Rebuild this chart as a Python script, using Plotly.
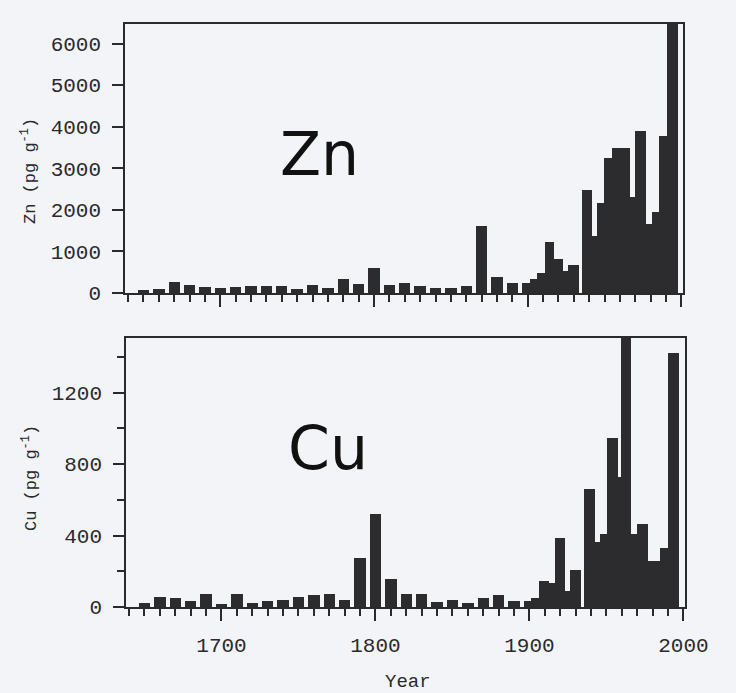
import plotly.graph_objects as go

# ---------------- data ----------------
decade_years = [1650, 1660, 1670, 1680, 1690, 1700, 1710, 1720, 1730, 1740,
                1750, 1760, 1770, 1780, 1790, 1800, 1810, 1820, 1830, 1840,
                1850, 1860, 1870, 1880, 1890]
zn_decade = [80, 105, 265, 200, 145, 120, 137, 160, 177, 170,
             105, 185, 130, 346, 217, 604, 200, 235, 180, 110,
             110, 160, 1620, 380, 245]
cu_decade = [22, 55, 50, 33, 74, 18, 74, 20, 31, 37,
             55, 67, 70, 39, 274, 518, 157, 72, 75, 28,
             40, 20, 50, 65, 35]

zn_bin_start = [1896.5, 1901.3, 1906.2, 1911.0, 1917.2, 1923.0, 1926.4, 1935.5, 1942.0,
                1945.0, 1949.8, 1954.7, 1966.5, 1969.8, 1977.2, 1980.8, 1985.2, 1990.5]
zn_bin_end = [1901.3, 1906.2, 1911.0, 1917.2, 1923.0, 1926.4, 1933.5, 1942.0, 1945.0,
              1949.8, 1954.7, 1966.5, 1969.8, 1977.2, 1980.8, 1985.2, 1990.5, 1998.0]
zn_late = [245, 336, 480, 1223, 810, 530, 670, 2480, 1365,
           2165, 3250, 3480, 2320, 3890, 1660, 1950, 3770, 7000]

cu_bin_start = [1896.5, 1901.3, 1906.5, 1912.4, 1916.3, 1923.0, 1926.4, 1935.6, 1942.8,
                1945.6, 1950.3, 1957.4, 1959.6, 1966.0, 1970.1, 1976.9, 1985.0, 1990.0]
cu_bin_end = [1901.3, 1906.5, 1912.4, 1916.3, 1923.0, 1926.4, 1933.5, 1942.8, 1945.6,
              1950.3, 1957.4, 1959.6, 1966.0, 1970.1, 1976.9, 1985.0, 1990.0, 1996.8]
cu_late = [35, 50, 148, 135, 385, 92, 207, 663, 362,
           409, 947, 725, 1600, 409, 465, 256, 330, 1420]

x_tick_labels = ["1700", "1800", "1900", "2000"]
x_tick_vals = [1700, 1800, 1900, 2000]

# ---------------- styling ----------------
BAR = "#2c2c2e"
INK = "#2a2a2d"
BG = "#f3f4f8"
MONO = "Liberation Mono, Courier New, monospace"
DECADE_W = 7.4


def build(decade_vals, starts, ends, late_vals):
    xs = list(decade_years) + [(a + b) / 2 for a, b in zip(starts, ends)]
    ws = [DECADE_W] * len(decade_years) + [b - a for a, b in zip(starts, ends)]
    ys = list(decade_vals) + list(late_vals)
    return xs, ws, ys


zx, zw, zy = build(zn_decade, zn_bin_start, zn_bin_end, zn_late)
cx, cw, cy = build(cu_decade, cu_bin_start, cu_bin_end, cu_late)

fig = go.Figure()
fig.add_trace(go.Bar(x=zx, y=zy, width=zw, marker=dict(color=BAR, line=dict(width=0)),
                     xaxis="x", yaxis="y", showlegend=False))
fig.add_trace(go.Bar(x=cx, y=cy, width=cw, marker=dict(color=BAR, line=dict(width=0)),
                     xaxis="x2", yaxis="y2", showlegend=False))

W, H = 736, 693

common_x = dict(range=[1638, 2001], showgrid=False, zeroline=False, automargin=False,
                showline=True, linecolor=INK, linewidth=1.5, mirror=True,
                ticks="outside", tickmode="array", tickvals=x_tick_vals,
                ticktext=x_tick_labels, ticklen=12, tickwidth=1.5, tickcolor=INK,
                minor=dict(ticks="outside", dtick=10, tick0=1700, ticklen=7,
                           tickwidth=1.5, tickcolor=INK),
                tickfont=dict(family=MONO, size=21, color=INK),
                ticklabelstandoff=6)
common_y = dict(showgrid=False, zeroline=False, showline=True, linecolor=INK,
                linewidth=1.5, mirror=True, ticks="outside", ticklen=11,
                tickwidth=1.5, tickcolor=INK, automargin=False,
                tickfont=dict(family=MONO, size=21, color=INK),
                ticklabelstandoff=7)

fig.update_layout(
    width=W, height=H, margin=dict(l=0, r=0, t=0, b=0, autoexpand=False),
    paper_bgcolor=BG, plot_bgcolor=BG, bargap=0,
    xaxis=dict(domain=[125 / W, 683 / W], anchor="y", showticklabels=False, **common_x),
    yaxis=dict(domain=[1 - 293 / H, 1 - 24 / H], anchor="x", range=[0, 6470],
               tickmode="linear", tick0=0, dtick=1000, **common_y),
    xaxis2=dict(domain=[126 / W, 685 / W], anchor="y2", showticklabels=True, **common_x),
    yaxis2=dict(domain=[1 - 607 / H, 1 - 338 / H], anchor="x2", range=[0, 1505],
                tickmode="linear", tick0=0, dtick=400,
                minor=dict(ticks="outside", dtick=200, tick0=0, ticklen=7,
                           tickwidth=1.5, tickcolor=INK),
                **common_y),
    annotations=[
        dict(text="Zn (pg g<sup>-1</sup>)", x=29 / W, y=1 - 171 / H, xref="paper", yref="paper",
             xanchor="center", yanchor="middle",
             textangle=-90, showarrow=False, font=dict(family=MONO, size=17, color=INK)),
        dict(text="Cu (pg g<sup>-1</sup>)", x=30 / W, y=1 - 478 / H, xref="paper", yref="paper",
             xanchor="center", yanchor="middle",
             textangle=-90, showarrow=False, font=dict(family=MONO, size=17, color=INK)),
        dict(text="Zn", x=319 / W, y=1 - 154 / H, xref="paper", yref="paper",
             xanchor="center", yanchor="middle",
             showarrow=False, font=dict(family="DejaVu Sans", size=60, color="#111")),
        dict(text="Cu", x=328 / W, y=1 - 448 / H, xref="paper", yref="paper",
             xanchor="center", yanchor="middle",
             showarrow=False, font=dict(family="DejaVu Sans", size=60, color="#111")),
        dict(text="Year", x=408 / W, y=1 - 682 / H, xref="paper", yref="paper",
             xanchor="center", yanchor="middle",
             showarrow=False, font=dict(family=MONO, size=19, color=INK)),
    ],
)

fig.write_html("out.html", config={"displayModeBar": False},
               post_script="document.body.style.margin='0';document.body.style.overflow='hidden';")
